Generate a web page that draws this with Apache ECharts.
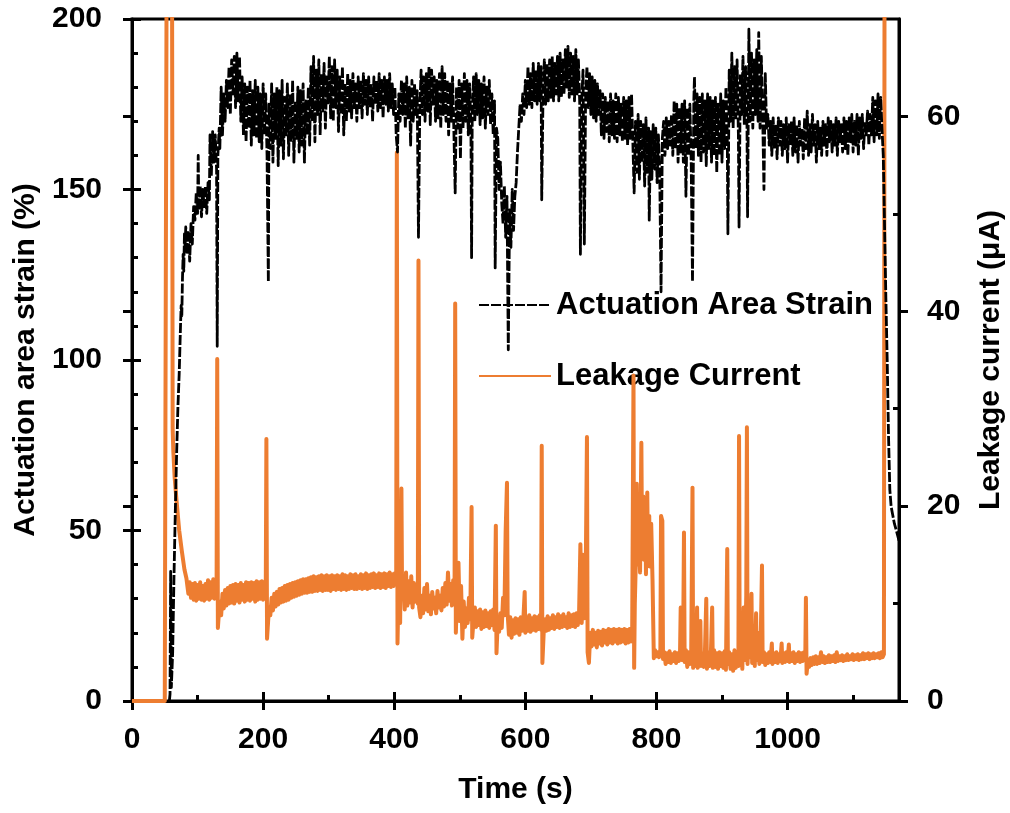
<!DOCTYPE html>
<html><head><meta charset="utf-8">
<script src="https://cdn.jsdelivr.net/npm/echarts@6/dist/echarts.min.js"></script>
<style>html,body{margin:0;padding:0;background:#fff}#c{width:1010px;height:813px}</style>
</head><body><div id="c"></div>
<script>
const xMax = 1170;
const xTicks = [0,200,400,600,800,1000];
const xMinor = [100,300,500,700,900,1100];
const leftTicks = [0,50,100,150,200];
const leftMinor = [10,20,30,40,60,70,80,90,110,120,130,140,160,170,180,190];
const rightTicks = [0,20,40,60];
const rightMinor = [10,30,50];
const seriesNames = ['Actuation Area Strain','Leakage Current'];

// Actuation area strain (%) vs time (s)
const strainPoints = [[57,0],[58,2],[59,38],[60,4],[62,14],[64,36],[66,55],[68,72],[70,86],[72,96],[73,103],[74,110],[75,116],[76,113],[77,124],[78,131],[79,126],[80,137],[81,133],[82,139],[84,131],[86,138],[88,129],[90,140],[92,134],[94,145],[96,141],[98,149],[100,143],[101,160],[102,144],[104,151],[106,142],[108,150],[110,145],[112,151],[114,143],[116,152],[118,147],[119,166],[121,154],[123,167],[125,158],[127,166],[129,156],[130,104],[131,160],[133,168],[134,162],[136,180],[138,166],[140,178],[142,170],[144,182],[146,174],[148,186],[150,172],[152,188],[154,178],[156,189],[158,174],[160,190],[162,176],[164,189],[166,170],[168,183],[170,166],[172,181],[174,164],[176,180],[178,168],[180,182],[182,163],[184,179],[186,166],[188,182],[190,165],[192,180],[194,164],[196,178],[198,162],[200,181],[202,166],[204,178],[206,160],[208,123],[209,175],[211,162],[213,181],[215,158],[217,178],[219,165],[221,180],[223,157],[225,179],[227,163],[229,182],[231,159],[233,177],[235,166],[237,181],[239,160],[241,178],[243,164],[245,182],[247,158],[249,176],[251,165],[253,180],[255,161],[257,179],[259,163],[261,181],[263,158],[265,176],[267,166],[269,180],[271,163],[273,186],[275,170],[277,189],[279,164],[281,185],[283,172],[285,188],[287,166],[289,184],[291,173],[293,187],[295,168],[297,183],[299,175],[301,189],[303,171],[305,186],[307,170],[309,188],[311,174],[313,185],[315,167],[317,183],[319,172],[321,186],[323,166],[325,181],[327,170],[329,184],[331,173],[333,182],[335,171],[337,184],[339,174],[341,181],[343,170],[345,183],[347,174],[349,182],[351,171],[353,184],[355,175],[357,182],[359,172],[361,183],[363,174],[365,181],[367,170],[369,183],[371,175],[373,182],[375,173],[377,184],[379,174],[381,182],[383,171],[385,183],[387,175],[389,182],[391,173],[393,184],[395,174],[397,181],[399,172],[401,180],[403,166],[405,161],[407,178],[409,170],[411,182],[413,172],[415,181],[417,168],[419,183],[421,171],[423,180],[425,163],[427,182],[429,170],[431,181],[433,172],[435,179],[437,136],[439,174],[441,185],[443,172],[445,183],[447,170],[449,184],[451,173],[453,186],[455,169],[457,185],[459,175],[461,183],[463,170],[465,182],[467,171],[469,184],[471,168],[473,186],[475,172],[477,184],[479,170],[481,182],[483,166],[485,181],[487,170],[489,183],[491,167],[493,149],[495,180],[497,168],[499,182],[501,159],[503,181],[505,168],[507,184],[509,170],[511,182],[513,166],[515,181],[517,168],[518,130],[519,172],[521,183],[523,170],[525,184],[527,172],[529,182],[531,169],[533,181],[535,171],[537,183],[539,168],[541,180],[543,172],[545,182],[547,169],[549,178],[551,166],[553,176],[554,127],[556,168],[558,165],[560,150],[562,158],[564,146],[566,140],[568,151],[570,136],[572,148],[574,103],[576,144],[578,133],[580,150],[582,138],[584,148],[586,152],[588,161],[590,168],[592,175],[594,170],[596,178],[598,172],[600,182],[602,174],[604,186],[606,175],[608,184],[610,174],[612,187],[614,176],[616,185],[618,175],[620,187],[622,176],[624,186],[625,147],[627,178],[629,188],[631,175],[633,187],[635,176],[637,188],[639,177],[641,189],[643,176],[645,187],[647,178],[649,189],[651,176],[653,190],[655,177],[657,188],[659,178],[661,191],[663,180],[665,192],[667,177],[669,190],[671,178],[673,189],[675,176],[677,191],[679,178],[681,188],[683,175],[684,131],[686,176],[688,185],[690,134],[692,178],[694,186],[696,174],[698,184],[700,172],[702,183],[704,171],[706,182],[708,170],[710,181],[712,172],[714,179],[716,166],[718,178],[720,165],[722,177],[724,167],[726,176],[728,164],[730,178],[732,166],[734,176],[736,165],[738,178],[740,164],[742,177],[744,166],[746,175],[748,164],[750,177],[752,165],[754,176],[756,163],[758,177],[760,165],[762,178],[764,164],[766,149],[768,170],[770,155],[772,172],[774,153],[776,170],[778,158],[780,169],[782,151],[784,171],[786,155],[788,168],[789,141],[791,167],[793,153],[795,169],[797,156],[799,168],[801,152],[803,166],[805,155],[807,120],[809,165],[811,170],[813,160],[815,171],[817,162],[819,170],[821,163],[823,172],[825,160],[827,176],[829,162],[831,175],[833,158],[835,174],[837,161],[839,175],[841,158],[843,176],[845,148],[847,174],[849,160],[851,175],[853,158],[855,123],[857,176],[858,183],[860,162],[862,178],[864,160],[866,177],[868,158],[870,178],[872,161],[874,176],[876,157],[878,178],[880,162],[882,177],[884,158],[886,176],[888,160],[890,177],[892,155],[894,175],[896,160],[898,178],[900,158],[902,176],[904,162],[906,180],[908,167],[909,137],[911,185],[913,170],[915,190],[917,168],[919,186],[921,171],[923,188],[925,166],[926,139],[928,184],[930,172],[932,189],[934,169],[936,186],[938,171],[939,142],[941,197],[943,170],[945,190],[947,168],[949,188],[951,172],[953,191],[955,170],[956,196],[958,168],[960,189],[962,172],[964,150],[966,184],[968,168],[970,172],[972,163],[974,170],[976,160],[978,171],[980,162],[982,169],[984,159],[986,171],[988,163],[990,170],[992,160],[994,169],[996,162],[998,171],[1000,158],[1002,169],[1004,163],[1006,170],[1008,160],[1010,171],[1012,161],[1014,169],[1016,158],[1018,170],[1020,163],[1022,168],[1024,159],[1026,171],[1028,162],[1030,173],[1032,160],[1034,169],[1036,161],[1038,172],[1040,163],[1042,169],[1044,158],[1046,170],[1048,162],[1050,168],[1052,160],[1054,170],[1056,163],[1058,169],[1060,160],[1062,171],[1064,164],[1066,170],[1068,161],[1070,169],[1072,163],[1074,171],[1076,160],[1078,170],[1080,164],[1082,169],[1084,161],[1086,171],[1088,162],[1090,170],[1092,160],[1094,171],[1096,164],[1098,172],[1100,161],[1102,170],[1104,163],[1106,172],[1108,160],[1110,171],[1112,165],[1114,172],[1116,162],[1118,170],[1120,166],[1122,173],[1124,163],[1126,172],[1128,166],[1130,177],[1132,164],[1134,176],[1136,166],[1138,178],[1140,165],[1142,177],[1144,168],[1146,160],[1148,139],[1150,118],[1152,100],[1154,78],[1156,62],[1158,57],[1160,55],[1163,52],[1166,50],[1170,47]];

// Leakage current (uA) vs time (s)
const currentPoints = [[0,0],[50,0],[51,29],[52,29],[53,80],[61,80],[62,28],[63,25.7],[65,23],[68,20.5],[72,17.5],[76,15.4],[80,13.5],[83,12.6],[86,11.0],[88,12.2],[90,10.6],[92,12.0],[94,10.4],[96,12.1],[98,10.3],[100,11.9],[102,10.5],[104,12.2],[106,10.4],[108,11.8],[110,10.3],[112,12.0],[114,10.5],[116,12.4],[118,10.4],[120,12.2],[122,10.6],[124,12.5],[126,10.5],[128,12.3],[129,10.8],[130,35.1],[131,7.5],[132,8.5],[134,10.2],[136,8.8],[138,11.0],[140,9.5],[142,11.4],[144,9.8],[146,11.6],[148,10.0],[150,11.8],[152,10.1],[154,11.9],[156,10.0],[158,12.0],[160,10.3],[162,11.9],[164,10.1],[166,12.1],[168,10.4],[170,11.9],[172,10.2],[174,12.2],[176,10.4],[178,12.1],[180,10.3],[182,12.2],[184,10.5],[186,12.1],[188,10.2],[190,12.3],[192,10.4],[194,12.2],[196,10.5],[198,12.3],[200,10.4],[202,12.2],[204,10.6],[205,26.9],[206,6.4],[207,7.5],[209,9.6],[211,8.8],[213,10.6],[215,9.3],[217,11.0],[219,9.7],[221,11.2],[223,9.9],[225,11.5],[227,10.1],[229,11.6],[231,10.2],[233,11.8],[235,10.3],[237,11.9],[239,10.4],[241,12.0],[243,10.6],[245,12.1],[247,10.7],[249,12.2],[251,10.8],[253,12.3],[255,10.9],[257,12.4],[259,11.0],[261,12.5],[263,11.1],[265,12.5],[267,11.1],[269,12.6],[271,11.2],[273,12.7],[275,11.2],[277,12.8],[279,11.3],[281,12.7],[283,11.3],[285,12.8],[287,11.4],[289,12.9],[291,11.3],[293,12.8],[295,11.4],[297,12.9],[299,11.4],[301,12.8],[303,11.3],[305,12.9],[307,11.5],[309,12.8],[311,11.4],[313,12.9],[315,11.5],[317,12.8],[319,11.4],[321,13.0],[323,11.5],[325,12.9],[327,11.4],[329,12.8],[331,11.5],[333,13.0],[335,11.6],[337,12.9],[339,11.5],[341,13.0],[343,11.5],[345,12.8],[347,11.6],[349,13.0],[351,11.5],[353,12.9],[355,11.6],[357,13.1],[359,11.5],[361,12.9],[363,11.6],[365,13.0],[367,11.7],[369,13.1],[371,11.6],[373,12.9],[375,11.7],[377,13.1],[379,11.6],[381,13.0],[383,11.7],[385,13.1],[387,11.6],[389,13.0],[391,11.8],[393,13.2],[395,11.7],[397,13.0],[399,11.8],[401,13.1],[403,11.9],[404,56.3],[405,5.9],[406,9.5],[408,14.4],[409,8.0],[411,21.8],[412,10.5],[414,12.6],[416,9.4],[418,13.2],[420,9.8],[422,12.3],[424,10.1],[426,12.8],[428,9.6],[430,12.1],[432,10.2],[434,11.8],[436,10.0],[437,45.2],[438,9.6],[440,8.6],[442,10.8],[444,9.0],[446,11.6],[448,9.4],[450,12.0],[452,9.2],[454,10.8],[456,8.9],[458,11.2],[460,9.5],[462,10.6],[464,9.0],[466,11.3],[468,9.6],[470,10.8],[472,9.3],[474,11.6],[476,9.7],[478,12.1],[480,9.9],[482,13.2],[484,10.3],[486,12.0],[488,9.8],[490,12.4],[492,10.1],[493,40.8],[494,7.0],[496,11.5],[498,14.2],[500,8.2],[502,11.8],[504,6.4],[506,10.2],[508,7.6],[510,9.5],[512,8.0],[514,10.6],[516,8.4],[518,19.9],[519,6.5],[521,8.3],[523,9.6],[525,7.6],[527,9.2],[529,7.8],[531,9.4],[533,7.4],[535,9.1],[537,7.6],[539,9.3],[541,7.7],[543,9.0],[545,7.5],[547,9.2],[549,7.8],[551,9.4],[553,7.3],[555,18.0],[556,4.9],[558,8.4],[560,7.1],[562,9.0],[564,7.5],[566,10.6],[568,8.8],[570,17.5],[572,22.4],[573,9.0],[575,6.8],[577,8.6],[579,6.5],[581,8.3],[583,6.9],[585,8.5],[587,7.0],[589,8.4],[591,6.8],[593,8.6],[595,7.2],[597,8.4],[599,11.2],[600,7.0],[602,8.6],[604,7.2],[606,8.8],[608,7.1],[610,8.5],[612,7.3],[614,8.7],[616,7.2],[618,8.6],[620,7.4],[622,8.8],[624,7.3],[625,26.2],[626,3.9],[628,7.0],[630,8.4],[632,7.2],[634,8.7],[636,7.3],[638,8.5],[640,7.5],[642,8.8],[644,7.4],[646,8.6],[648,7.6],[650,8.9],[652,7.5],[654,8.7],[656,7.6],[658,8.9],[660,7.7],[662,8.6],[664,7.5],[666,9.0],[668,7.6],[670,8.8],[672,7.7],[674,8.9],[676,7.6],[678,9.0],[680,7.8],[682,9.1],[684,16.1],[686,8.0],[688,15.0],[690,8.5],[692,12.0],[694,27.1],[695,5.0],[697,3.9],[699,7.0],[701,5.6],[703,7.3],[705,5.8],[707,7.0],[709,5.5],[711,7.2],[713,5.9],[715,7.1],[717,5.7],[719,7.3],[721,6.0],[723,7.2],[725,5.8],[727,7.4],[729,6.0],[731,7.3],[733,5.9],[735,7.4],[737,6.1],[739,7.3],[741,5.9],[743,7.4],[745,6.0],[747,7.3],[749,6.1],[751,7.4],[753,5.9],[755,7.3],[757,6.0],[759,7.4],[761,6.1],[763,7.2],[765,33.4],[766,3.4],[767,10.0],[769,15.5],[770,22.3],[771,14.0],[773,18.6],[775,13.2],[777,26.5],[778,16.0],[780,21.0],[781,14.5],[783,20.5],[784,13.0],[786,21.4],[787,15.2],[789,19.0],[790,13.8],[792,18.2],[794,12.5],[796,4.4],[798,5.2],[800,4.6],[802,5.0],[804,4.5],[806,5.3],[807,19.0],[809,18.5],[810,4.3],[812,5.0],[814,3.8],[816,4.9],[818,4.0],[820,5.1],[822,3.9],[824,4.8],[826,4.1],[828,5.0],[830,3.9],[832,4.9],[834,4.1],[836,5.1],[837,9.6],[839,4.2],[841,8.5],[842,17.3],[843,4.0],[845,5.2],[847,3.5],[849,5.0],[851,3.8],[853,4.8],[855,21.9],[856,3.4],[858,5.1],[860,3.6],[862,9.6],[863,3.4],[865,5.0],[867,8.2],[868,3.6],[870,4.9],[872,3.5],[874,5.1],[876,10.5],[877,3.3],[879,5.0],[881,3.6],[883,4.8],[885,9.6],[886,3.4],[888,5.2],[890,3.5],[892,4.9],[894,3.3],[896,5.0],[898,3.6],[900,4.9],[902,3.4],[904,5.1],[906,3.2],[908,15.6],[909,3.8],[911,5.0],[913,3.3],[915,4.8],[917,3.1],[919,5.2],[921,3.4],[923,5.0],[925,3.6],[926,27.2],[927,4.0],[929,5.6],[931,3.3],[933,9.6],[935,4.2],[937,10.8],[938,28.1],[939,3.8],[941,8.0],[943,4.5],[945,11.0],[946,3.9],[948,6.8],[950,3.6],[952,9.0],[953,4.2],[955,7.0],[957,3.8],[959,6.0],[961,13.9],[962,4.0],[964,5.0],[966,3.7],[968,4.8],[970,3.9],[972,5.0],[974,4.0],[976,5.9],[977,3.8],[979,4.9],[981,4.0],[983,5.0],[985,3.9],[987,4.8],[989,4.1],[991,5.9],[992,3.9],[994,4.9],[996,4.0],[998,5.0],[1000,4.1],[1002,5.8],[1003,4.0],[1005,4.9],[1007,4.1],[1009,5.0],[1011,3.9],[1013,4.8],[1015,4.1],[1017,5.0],[1019,4.0],[1021,4.9],[1023,4.1],[1025,5.0],[1027,4.2],[1028,10.6],[1029,2.8],[1031,4.2],[1033,3.5],[1035,4.4],[1037,3.7],[1039,4.5],[1041,3.8],[1043,4.6],[1045,3.8],[1047,4.5],[1049,3.9],[1051,5.0],[1053,4.0],[1055,4.6],[1057,3.9],[1059,4.5],[1061,4.0],[1063,4.7],[1065,4.0],[1067,4.6],[1069,4.1],[1071,4.7],[1073,4.0],[1075,5.0],[1077,4.1],[1079,4.6],[1081,4.2],[1083,4.7],[1085,4.1],[1087,4.6],[1089,4.2],[1091,4.8],[1093,4.2],[1095,4.6],[1097,4.3],[1099,4.8],[1101,4.2],[1103,4.7],[1105,4.3],[1107,4.8],[1109,4.2],[1111,4.7],[1113,4.3],[1115,4.9],[1117,4.3],[1119,4.8],[1121,4.4],[1123,4.9],[1125,4.3],[1127,4.8],[1129,4.4],[1131,4.9],[1133,4.4],[1135,4.8],[1137,4.5],[1139,4.9],[1141,4.4],[1143,5.0],[1145,4.5],[1147,4.8],[1148,80],[1170,80]];

const FONT = '"Liberation Sans", Arial, Helvetica, sans-serif';
const BLACK = '#000000';
const ORANGE = '#ED7D31';

function tickOverlayX(values, len) {
  return { type: 'value', min: 0, max: xMax, position: 'bottom', gridIndex: 0,
    axisLine: { show: false }, splitLine: { show: false }, axisLabel: { show: false },
    axisTick: { show: true, inside: true, length: len, customValues: values, lineStyle: { color: BLACK, width: 3 } } };
}
function tickOverlayY(values, len, pos, max) {
  return { type: 'value', min: 0, max: max, position: pos, gridIndex: 0,
    axisLine: { show: false }, splitLine: { show: false }, axisLabel: { show: false },
    axisTick: { show: true, inside: true, length: len, customValues: values, lineStyle: { color: BLACK, width: 3 } } };
}

const plain = function (v) { return String(v); };
const labelStyle = { color: BLACK, fontFamily: FONT, fontWeight: 'bold', fontSize: 30, formatter: plain };
const nameStyle = { color: BLACK, fontFamily: FONT, fontWeight: 'bold', fontSize: 30 };

const option = {
  animation: false,
  backgroundColor: '#ffffff',
  grid: { left: 132, top: 19, right: 111, bottom: 112, show: true, borderColor: BLACK, borderWidth: 3, containLabel: false, outerBoundsMode: 'none' },
  legend: {
    data: seriesNames, orient: 'vertical', left: 473, top: 283, itemWidth: 72, itemHeight: 14, itemGap: 37,
    z: 1, selectedMode: false,
    itemStyle: { opacity: 0, color: 'rgba(0,0,0,0)', borderWidth: 0 },
    textStyle: { color: BLACK, fontFamily: FONT, fontWeight: 'bold', fontSize: 31, lineHeight: 34 }
  },
  xAxis: [
    { type: 'value', min: 0, max: xMax, position: 'bottom',
      name: 'Time (s)', nameLocation: 'middle', nameGap: 74, nameTextStyle: nameStyle,
      axisLine: { show: true, onZero: false, lineStyle: { color: BLACK, width: 3 } },
      axisTick: { show: true, inside: false, length: 9, customValues: xTicks, lineStyle: { color: BLACK, width: 3 } },
      axisLabel: Object.assign({ margin: 24, customValues: xTicks }, labelStyle),
      splitLine: { show: false } },
    tickOverlayX(xTicks, 9),
    tickOverlayX(xMinor, 6)
  ],
  yAxis: [
    { type: 'value', min: 0, max: 200, position: 'left',
      name: 'Actuation area strain (%)', nameLocation: 'middle', nameGap: 87, nameRotate: 90, nameTextStyle: nameStyle,
      axisLine: { show: true, onZero: false, lineStyle: { color: BLACK, width: 3 } },
      axisTick: { show: true, inside: false, length: 9, customValues: leftTicks, lineStyle: { color: BLACK, width: 3 } },
      axisLabel: Object.assign({ margin: 30, customValues: leftTicks }, labelStyle),
      splitLine: { show: false } },
    { type: 'value', min: 0, max: 70, position: 'right',
      name: 'Leakage current (μA)', nameLocation: 'middle', nameGap: 77, nameRotate: 90, nameTextStyle: nameStyle,
      axisLine: { show: true, onZero: false, lineStyle: { color: BLACK, width: 3 } },
      axisTick: { show: true, inside: false, length: 9, customValues: rightTicks, lineStyle: { color: BLACK, width: 3 } },
      axisLabel: Object.assign({ margin: 28, customValues: rightTicks }, labelStyle),
      splitLine: { show: false } },
    tickOverlayY(leftTicks, 9, 'left', 200),
    tickOverlayY(leftMinor, 6, 'left', 200),
    tickOverlayY(rightTicks, 9, 'right', 70),
    tickOverlayY(rightMinor, 6, 'right', 70)
  ],
  series: [
    { name: seriesNames[1], type: 'line', xAxisIndex: 0, yAxisIndex: 1, data: currentPoints,
      symbol: 'none', showSymbol: false, sampling: null, clip: true, z: 2,
      lineStyle: { color: ORANGE, width: 4, join: 'round' }, itemStyle: { color: ORANGE } },
    { name: seriesNames[0], type: 'line', xAxisIndex: 0, yAxisIndex: 0, data: strainPoints,
      symbol: 'none', showSymbol: false, sampling: null, clip: true, z: 3,
      lineStyle: { color: BLACK, width: 2.8, type: [10, 2], join: 'round' }, itemStyle: { color: BLACK } }
  ]
};

const chart = echarts.init(document.getElementById('c'), null, { renderer: 'canvas' });
chart.setOption(option);
</script>
</body></html>
